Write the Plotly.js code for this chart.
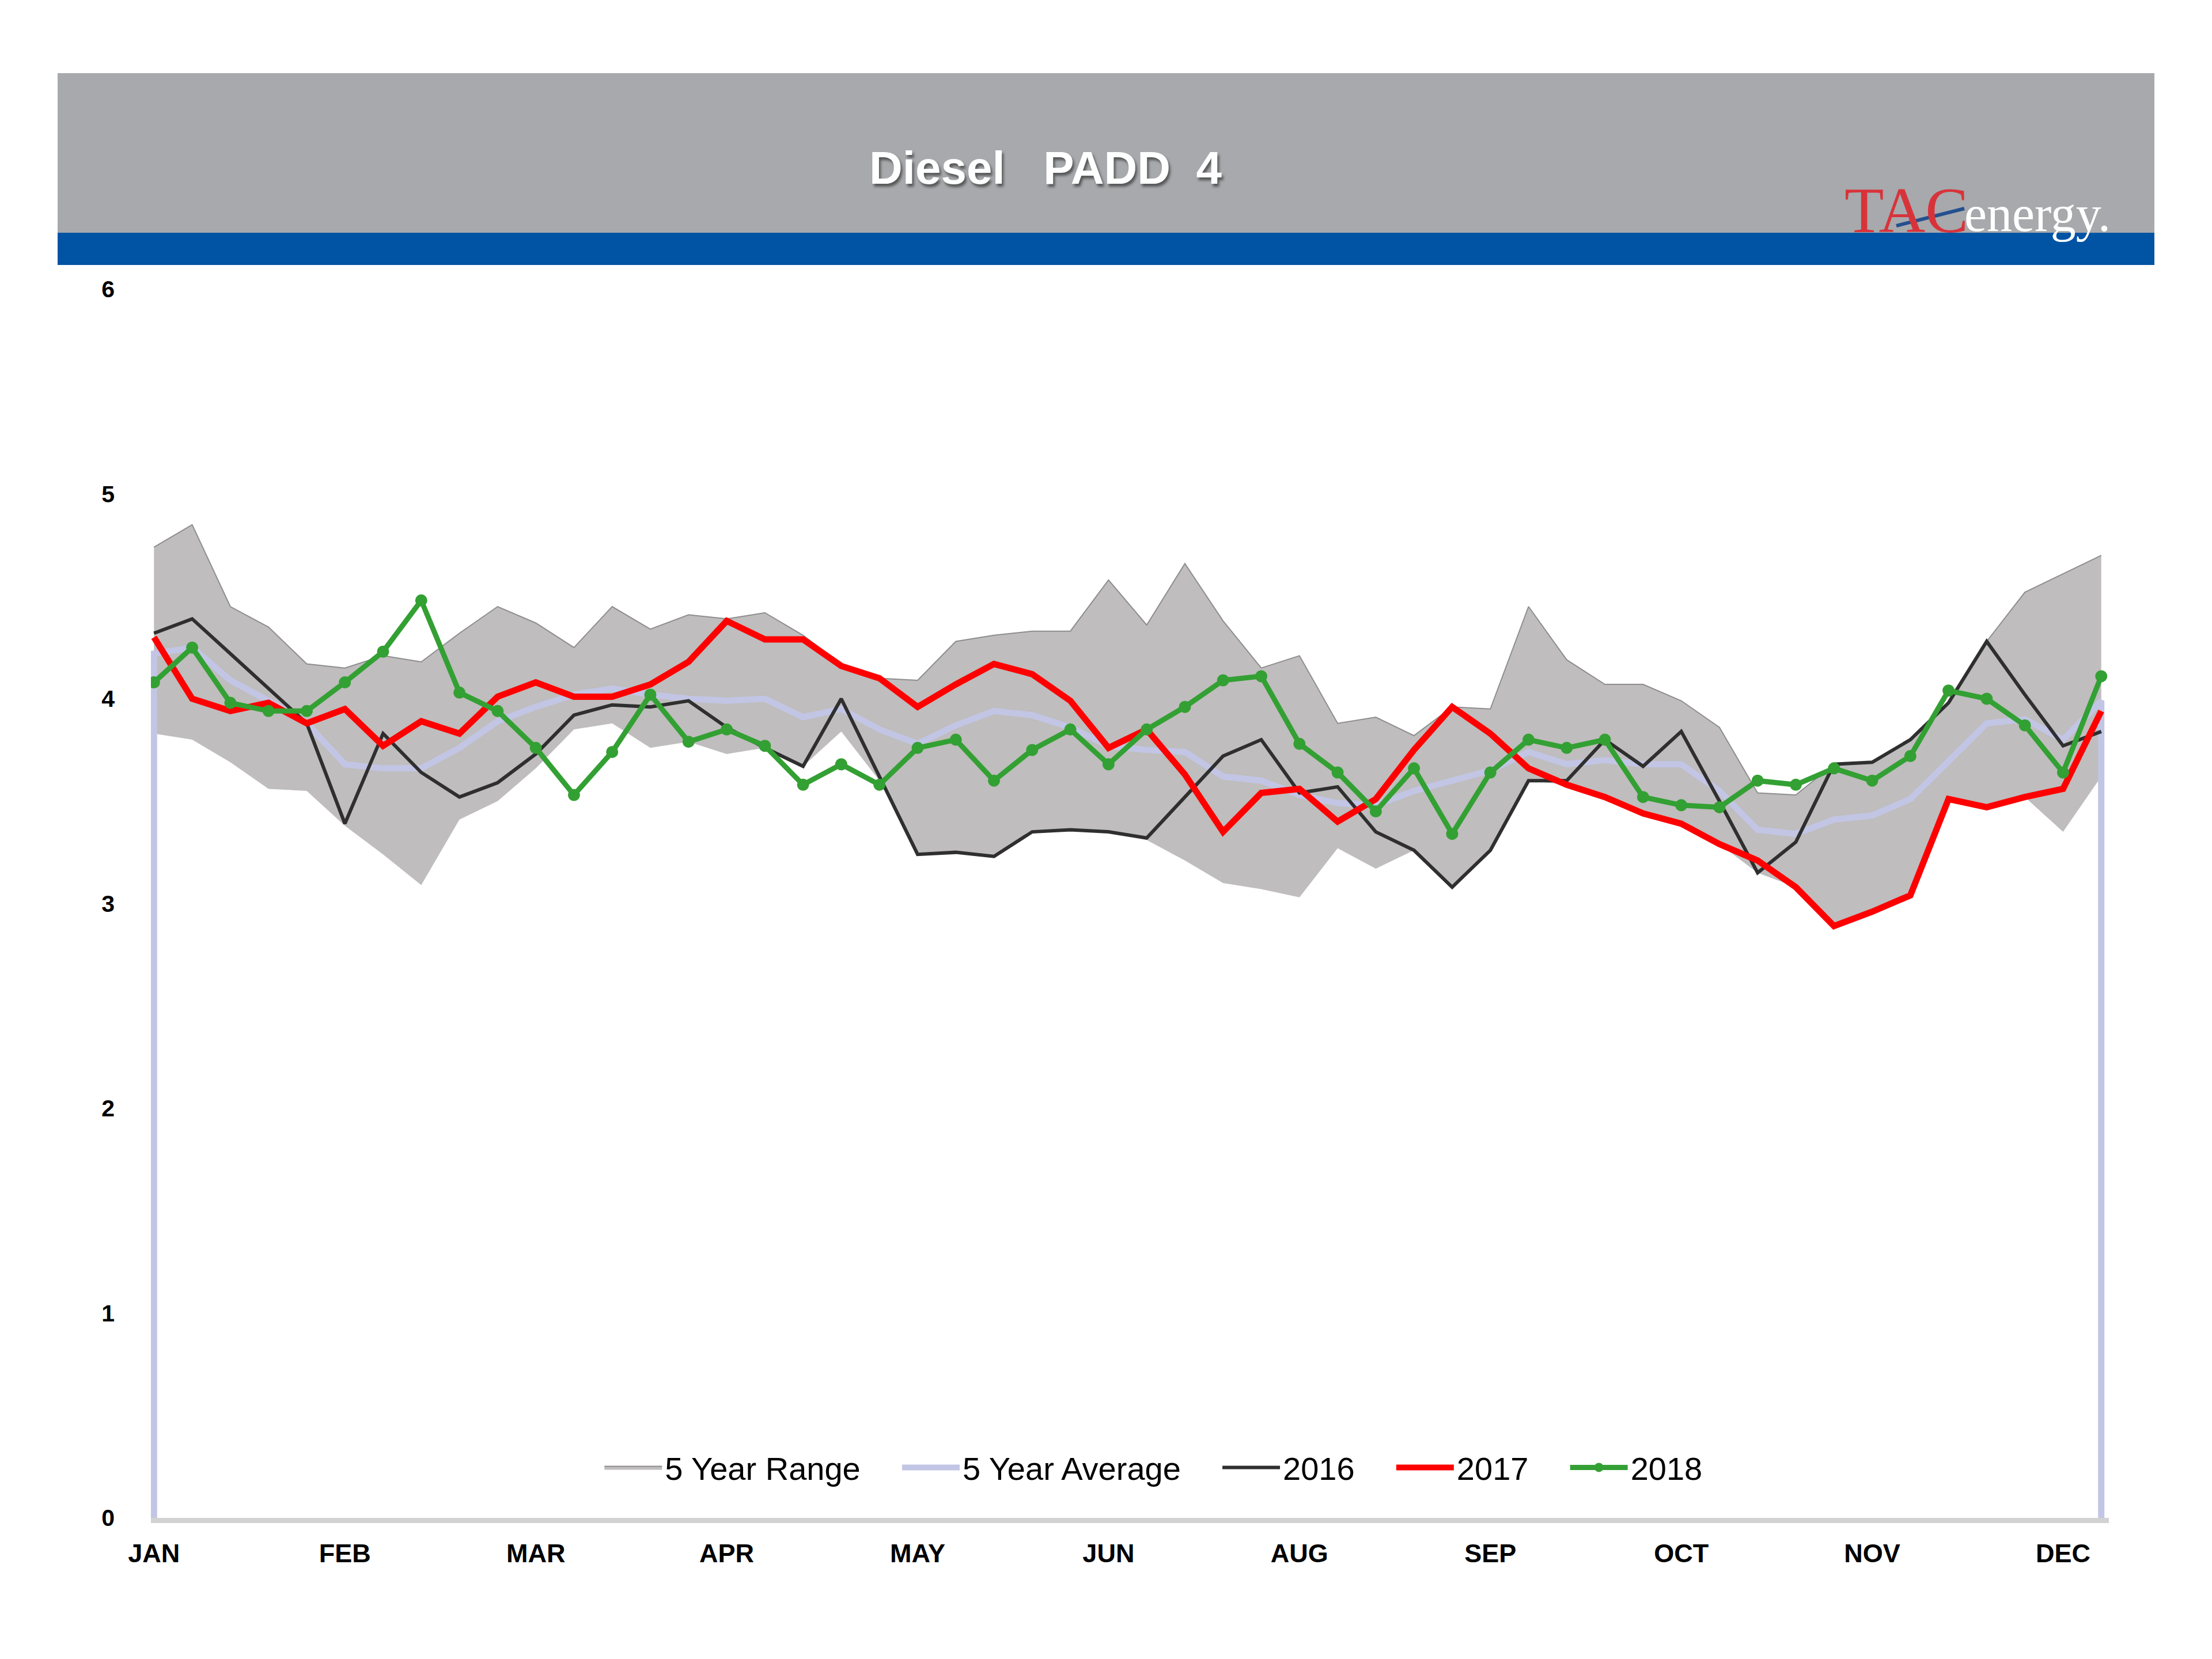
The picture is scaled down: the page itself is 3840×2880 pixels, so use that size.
<!DOCTYPE html>
<html><head><meta charset="utf-8">
<script src="https://cdn.plot.ly/plotly-3.0.1.min.js"></script>
<style>html,body{margin:0;padding:0;background:#fff;}</style>
</head><body>
<div id="chart" style="width:3840px;height:2880px;"></div>
<script>
// Tick labels (one every 5 weeks; JUL is absent in the original)
const monthLabels = ['JAN','FEB','MAR','APR','MAY','JUN','AUG','SEP','OCT','NOV','DEC'];
const monthTickWeeks = [0,5,10,15,20,25,30,35,40,45,50];

// 5 year range (high / low)
const range5High = [4.74,4.85,4.45,4.35,4.17,4.15,4.21,4.18,4.32,4.45,4.37,4.25,4.45,4.34,4.41,4.39,4.42,4.31,4.17,4.10,
  4.09,4.28,4.31,4.33,4.33,4.58,4.36,4.66,4.38,4.15,4.21,3.88,3.91,3.82,3.96,3.95,4.45,4.19,4.07,4.07,
  3.99,3.86,3.54,3.53,3.68,3.69,3.80,3.98,4.28,4.52,4.61,4.70];
const range5Low = [3.83,3.80,3.69,3.56,3.55,3.38,3.24,3.09,3.41,3.50,3.66,3.85,3.88,3.76,3.79,3.73,3.76,3.67,3.84,3.60,
  3.24,3.25,3.23,3.35,3.36,3.35,3.31,3.21,3.10,3.07,3.03,3.27,3.17,3.26,3.08,3.26,3.60,3.58,3.52,3.44,
  3.39,3.29,3.15,3.08,2.89,2.96,3.04,3.51,3.47,3.52,3.35,3.62];
// 5 year average
const avg5 = [4.22,4.25,4.09,3.99,3.88,3.68,3.66,3.66,3.76,3.89,3.96,4.02,4.05,4.02,4.00,3.99,4.00,3.91,3.95,3.85,
  3.78,3.87,3.94,3.92,3.86,3.77,3.75,3.74,3.62,3.60,3.53,3.49,3.48,3.55,3.60,3.65,3.74,3.68,3.70,3.68,
  3.68,3.55,3.36,3.34,3.41,3.43,3.51,3.70,3.88,3.90,3.80,3.99];
const y2016 = [4.32,4.39,4.22,4.05,3.88,3.39,3.83,3.64,3.52,3.59,3.73,3.92,3.97,3.96,3.99,3.86,3.76,3.67,4.00,3.62,
  3.24,3.25,3.23,3.35,3.36,3.35,3.32,3.52,3.72,3.80,3.54,3.57,3.35,3.26,3.08,3.26,3.60,3.60,3.80,3.67,
  3.84,3.50,3.15,3.30,3.68,3.69,3.80,3.98,4.28,4.02,3.77,3.84];
const y2017 = [4.30,4.00,3.94,3.98,3.88,3.95,3.77,3.89,3.83,4.01,4.08,4.01,4.01,4.07,4.18,4.38,4.29,4.29,4.16,4.10,
  3.96,4.07,4.17,4.12,3.99,3.76,3.85,3.63,3.35,3.54,3.56,3.40,3.51,3.75,3.96,3.83,3.66,3.58,3.52,3.44,
  3.39,3.29,3.21,3.08,2.89,2.96,3.04,3.51,3.47,3.52,3.56,3.94];
const y2018 = [4.08,4.25,3.98,3.94,3.94,4.08,4.23,4.48,4.03,3.94,3.76,3.53,3.74,4.02,3.79,3.85,3.77,3.58,3.68,3.58,
  3.76,3.80,3.60,3.75,3.85,3.68,3.85,3.96,4.09,4.11,3.78,3.64,3.45,3.66,3.34,3.64,3.80,3.76,3.80,3.52,
  3.48,3.47,3.60,3.58,3.66,3.60,3.72,4.04,4.00,3.87,3.64,4.11];

const weeks = avg5.map((_, i) => i);
const lastWeek = weeks[weeks.length - 1];

const sp = '&nbsp;&nbsp;&nbsp;&nbsp;';
const traces = [
  {x: weeks, y: range5Low, mode: 'lines', line: {width: 0, color: 'rgba(0,0,0,0)'},
   showlegend: false, hoverinfo: 'skip'},
  {x: weeks, y: range5High, mode: 'lines', fill: 'tonexty', fillcolor: '#bfbdbd',
   line: {color: '#8e8e8e', width: 2}, name: '5 Year Range' + sp},
  {x: [weeks[0]].concat(weeks, [lastWeek]), y: [0].concat(avg5, [0]), mode: 'lines',
   line: {color: '#c2c5e4', width: 11}, name: '5 Year Average' + sp},
  {x: weeks, y: y2016, mode: 'lines', line: {color: '#2f2f2f', width: 6}, name: '2016' + sp},
  {x: weeks, y: y2017, mode: 'lines', line: {color: '#ff0000', width: 11}, name: '2017' + sp},
  {x: weeks, y: y2018, mode: 'lines+markers', line: {color: '#33a033', width: 9},
   marker: {color: '#33a033', size: 21}, name: '2018'}
];

const plotL = 262, plotR = 3661, plotT = 502, plotB = 2635;
const px = v => (v - plotL) / (plotR - plotL);
const py = v => (plotB - v) / (plotB - plotT);

const layout = {
  width: 3840, height: 2880,
  paper_bgcolor: '#ffffff', plot_bgcolor: '#ffffff',
  margin: {l: plotL, r: 3840 - plotR, t: plotT, b: 2880 - plotB, pad: 0},
  showlegend: true,
  title: {text: 'Diesel&nbsp;&nbsp; PADD&nbsp; 4', x: 1815 / 3840, xanchor: 'center',
          y: 1 - 291 / 2880, yanchor: 'middle', xref: 'container', yref: 'container',
          font: {family: 'Liberation Sans, Arial, sans-serif', size: 80, color: '#ffffff', weight: 'bold',
                 shadow: '3px 5px 4px rgba(60,60,60,0.75)'}},
  xaxis: {range: [-0.08, 51.2], tickmode: 'array', tickvals: monthTickWeeks, ticktext: monthLabels,
          showgrid: false, zeroline: false, showline: true, linecolor: '#d2d2d2', linewidth: 9,
          ticks: '', ticklabelstandoff: 14,
          tickfont: {family: 'Liberation Sans, Arial, sans-serif', size: 45, color: '#000', weight: 'bold'}},
  yaxis: {range: [0, 6], tickmode: 'array', tickvals: [0,1,2,3,4,5,6],
          showgrid: false, zeroline: false, showline: false, ticks: '', ticklabelstandoff: 62,
          tickfont: {family: 'Liberation Sans, Arial, sans-serif', size: 41, color: '#000', weight: 'bold'}},
  legend: {orientation: 'h', x: 0.512, xanchor: 'center', y: 0.041, yanchor: 'middle',
           traceorder: 'normal', bgcolor: 'rgba(0,0,0,0)', itemwidth: 100,
           font: {family: 'Liberation Sans, Arial, sans-serif', size: 56, color: '#000'}},
  shapes: [
    {type: 'rect', xref: 'paper', yref: 'paper', x0: px(100), x1: px(3740), y0: py(404), y1: py(127),
     fillcolor: '#a7a9ac', line: {width: 0}, layer: 'below'},
    {type: 'rect', xref: 'paper', yref: 'paper', x0: px(100), x1: px(3740), y0: py(460), y1: py(404),
     fillcolor: '#0153a4', line: {width: 0}, layer: 'below'},
    {type: 'line', xref: 'paper', yref: 'paper', x0: px(3292), y0: py(392), x1: px(3410), y1: py(362),
     line: {color: '#24508f', width: 6}}
  ],
  annotations: [
    {text: 'TAC', xref: 'paper', yref: 'paper', x: px(3200), xanchor: 'left', y: py(365), yanchor: 'middle',
     showarrow: false, font: {family: 'Liberation Serif, Times New Roman, serif', size: 112, color: '#d8333a'}},
    {text: 'energy.', xref: 'paper', yref: 'paper', x: px(3408), xanchor: 'left', y: py(372), yanchor: 'middle',
     showarrow: false, font: {family: 'Liberation Serif, Times New Roman, serif', size: 88, color: '#ffffff'}}
  ]
};

Plotly.newPlot('chart', traces, layout, {displayModeBar: false, staticPlot: true});
</script>
</body></html>
